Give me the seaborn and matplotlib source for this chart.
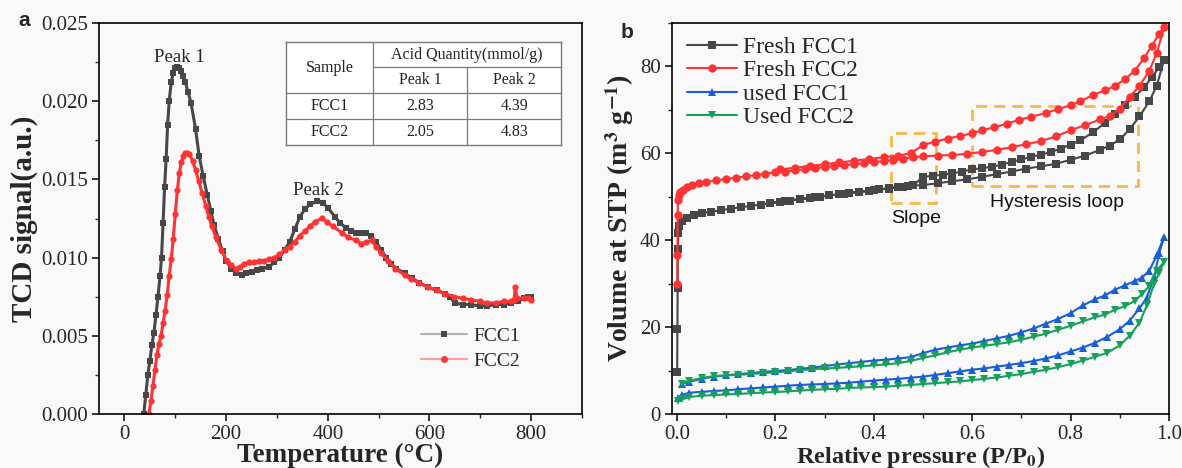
import matplotlib
matplotlib.use("Agg")
import matplotlib.pyplot as plt
import pandas as pd
import seaborn as sns
from matplotlib.lines import Line2D
from matplotlib.patches import Rectangle
from matplotlib.ticker import MultipleLocator

# --------------------------------------------
# DATA: panel a (NH3-TPD)
# --------------------------------------------
FCC1_T = [38, 42, 46, 50, 54, 58, 62, 66, 70, 73, 76, 79, 82, 85, 88, 92, 96, 100,
          104, 108, 112, 116, 120, 125, 131, 140, 147, 155, 163, 170, 176, 185, 193,
          200, 210, 220, 231, 240, 250, 260, 270, 284, 295, 305, 315, 325, 335, 345,
          355, 365, 378, 390, 400, 414, 425, 436, 446, 455, 465, 475, 485, 495, 505,
          515, 525, 535, 551, 565, 580, 597, 615, 630, 640, 650, 665, 681, 700, 714,
          730, 746, 760, 775, 785, 793, 800]
FCC1_SIGNAL = [0.0000, 0.0012, 0.0025, 0.0034, 0.0044, 0.0052, 0.0063, 0.0075, 0.0088,
               0.0100, 0.0122, 0.0145, 0.0163, 0.0185, 0.0200, 0.0212, 0.0218, 0.0221,
               0.0222, 0.0221, 0.0219, 0.0216, 0.0212, 0.0206, 0.0199, 0.0182, 0.0165,
               0.0152, 0.0140, 0.0130, 0.0121, 0.0112, 0.0104, 0.0098, 0.0093, 0.0090,
               0.0089, 0.0090, 0.0091, 0.0092, 0.0093, 0.0094, 0.0097, 0.0100, 0.0105,
               0.0110, 0.0118, 0.0126, 0.0131, 0.0134, 0.0136, 0.0135, 0.0132, 0.0126,
               0.0122, 0.0119, 0.0117, 0.0116, 0.0116, 0.0116, 0.0114, 0.0110, 0.0105,
               0.0100, 0.0096, 0.0093, 0.0090, 0.0087, 0.0084, 0.0081, 0.0079, 0.0077,
               0.0075, 0.0071, 0.0070, 0.0070, 0.0069, 0.0069, 0.0070, 0.0070, 0.0071,
               0.0072, 0.0074, 0.0075, 0.0075]

FCC2_T = [48, 52, 56, 60, 64, 68, 72, 76, 80, 84, 88, 92, 96, 100, 104, 108, 112, 116,
          120, 124, 128, 134, 140, 146, 153, 160, 166, 172, 180, 190, 201, 210, 219,
          228, 235, 245, 255, 265, 275, 284, 295, 305, 315, 325, 335, 345, 355, 365,
          375, 388, 398, 410, 427, 440, 455, 466, 476, 486, 495, 505, 518, 532, 551,
          564, 580, 597, 615, 630, 649, 665, 681, 700, 714, 730, 746, 760, 766, 769,
          772, 785, 793, 800]
FCC2_SIGNAL = [0.0000, 0.0008, 0.0018, 0.0028, 0.0038, 0.0045, 0.0050, 0.0058, 0.0066,
               0.0076, 0.0088, 0.0099, 0.0112, 0.0128, 0.0143, 0.0154, 0.0161, 0.0165,
               0.0167, 0.0167, 0.0166, 0.0162, 0.0156, 0.0149, 0.0141, 0.0133, 0.0126,
               0.0120, 0.0113, 0.0105, 0.0098, 0.0095, 0.0093, 0.0094, 0.0096, 0.0097,
               0.0097, 0.0098, 0.0098, 0.0099, 0.0100, 0.0102, 0.0105, 0.0107, 0.0110,
               0.0114, 0.0117, 0.0120, 0.0123, 0.0125, 0.0123, 0.0120, 0.0116, 0.0113,
               0.0111, 0.0109, 0.0110, 0.0111, 0.0107, 0.0103, 0.0098, 0.0093, 0.0089,
               0.0086, 0.0084, 0.0081, 0.0079, 0.0077, 0.0075, 0.0074, 0.0073, 0.0072,
               0.0071, 0.0071, 0.0072, 0.0072, 0.0073, 0.0081, 0.0074, 0.0074, 0.0074,
               0.0073]

TABLE_SAMPLES = ["FCC1", "FCC2"]
PEAK1_ACID = [2.83, 2.05]
PEAK2_ACID = [4.39, 4.83]

# --------------------------------------------
# DATA: panel b (N2 isotherms), adsorption then desorption branch
# --------------------------------------------
FRESH1_ADS_P = [0.0005, 0.001, 0.0015, 0.002, 0.003, 0.005, 0.01, 0.02, 0.035, 0.05,
                0.07, 0.09, 0.11, 0.13, 0.15, 0.17, 0.19, 0.21, 0.23, 0.25, 0.27, 0.29,
                0.31, 0.33, 0.35, 0.37, 0.39, 0.41, 0.43, 0.45, 0.47, 0.50, 0.53, 0.56,
                0.59, 0.62, 0.65, 0.68, 0.71, 0.74, 0.77, 0.80, 0.83, 0.86, 0.88, 0.90,
                0.92, 0.94, 0.96, 0.975, 0.99]
FRESH1_ADS_V = [9.7, 19.5, 29.0, 38.0, 41.7, 43.2, 44.5, 45.2, 45.8, 46.2, 46.6, 46.9,
                47.3, 47.6, 47.9, 48.2, 48.5, 48.8, 49.1, 49.4, 49.7, 50.0, 50.3, 50.6,
                50.9, 51.1, 51.4, 51.7, 52.0, 52.3, 52.5, 52.7, 53.1, 53.6, 54.0, 54.6,
                55.2, 55.8, 56.5, 57.0, 57.6, 58.5, 59.5, 60.8, 61.8, 63.2, 65.5, 68.5,
                72.0, 75.5, 81.5]
FRESH1_DES_P = [0.98, 0.965, 0.95, 0.93, 0.91, 0.89, 0.87, 0.845, 0.82, 0.80, 0.78,
                0.76, 0.74, 0.72, 0.70, 0.68, 0.66, 0.64, 0.62, 0.60, 0.58, 0.56, 0.54,
                0.52, 0.50, 0.48, 0.46, 0.43, 0.40, 0.37, 0.34, 0.31, 0.28, 0.25, 0.22,
                0.19]
FRESH1_DES_V = [79.8, 77.5, 75.2, 73.0, 71.2, 69.0, 67.0, 64.8, 63.0, 62.0, 61.1, 60.3,
                59.7, 59.2, 58.6, 58.0, 57.4, 56.9, 56.6, 56.3, 55.8, 55.4, 55.1, 54.8,
                54.6, 52.6, 52.3, 51.9, 51.5, 51.1, 50.7, 50.3, 49.9, 49.5, 49.1, 48.6]

FRESH2_ADS_P = [0.0005, 0.001, 0.0015, 0.002, 0.004, 0.007, 0.012, 0.02, 0.03, 0.045,
                0.06, 0.08, 0.10, 0.12, 0.14, 0.16, 0.18, 0.20, 0.22, 0.24, 0.26, 0.28,
                0.30, 0.32, 0.34, 0.36, 0.38, 0.40, 0.42, 0.44, 0.46, 0.48, 0.50, 0.53,
                0.56, 0.59, 0.62, 0.65, 0.68, 0.71, 0.74, 0.77, 0.80, 0.83, 0.86, 0.88,
                0.90, 0.92, 0.94, 0.96, 0.975, 0.99]
FRESH2_ADS_V = [30.0, 36.5, 45.8, 49.2, 50.4, 51.0, 51.6, 52.2, 52.7, 53.1, 53.4, 53.8,
                54.1, 54.4, 54.7, 55.0, 55.3, 55.6, 55.8, 56.1, 56.3, 56.6, 56.8, 57.1,
                57.3, 57.5, 57.7, 58.0, 58.2, 58.5, 58.8, 59.1, 59.3, 59.5, 59.6, 59.9,
                60.3, 60.8, 61.4, 62.1, 62.8, 63.9, 65.3, 66.5, 67.8, 68.6, 70.3, 73.0,
                75.5, 79.0, 83.0, 89.0]
FRESH2_DES_P = [0.98, 0.965, 0.95, 0.93, 0.91, 0.89, 0.87, 0.845, 0.82, 0.80, 0.775,
                0.75, 0.72, 0.695, 0.67, 0.645, 0.62, 0.60, 0.575, 0.55, 0.525, 0.50,
                0.475, 0.45, 0.42, 0.39, 0.36, 0.33, 0.30, 0.27, 0.24, 0.21]
FRESH2_DES_V = [87.5, 84.8, 82.0, 79.0, 77.0, 75.5, 74.5, 73.4, 72.0, 71.1, 70.2, 69.3,
                68.4, 67.7, 66.8, 66.0, 65.3, 64.6, 64.0, 63.4, 62.7, 61.9, 60.0, 59.5,
                59.1, 58.7, 58.3, 57.9, 57.5, 57.1, 56.7, 56.3]

USED_ADS_P = [0.002, 0.01, 0.025, 0.05, 0.075, 0.10, 0.125, 0.15, 0.175, 0.20, 0.225,
              0.25, 0.275, 0.30, 0.325, 0.35, 0.375, 0.40, 0.425, 0.45, 0.475, 0.50,
              0.525, 0.55, 0.575, 0.60, 0.625, 0.65, 0.675, 0.70, 0.725, 0.75, 0.775,
              0.80, 0.825, 0.85, 0.875, 0.90, 0.92, 0.94, 0.955, 0.97, 0.98, 0.99]
USED1_ADS_V = [3.7, 4.4, 4.9, 5.1, 5.3, 5.45, 5.7, 5.9, 6.1, 6.3, 6.5, 6.7, 6.8, 6.9,
               7.05, 7.2, 7.45, 7.7, 7.9, 8.1, 8.35, 8.6, 9.0, 9.4, 9.8, 10.2, 10.5,
               10.9, 11.3, 11.7, 12.2, 12.8, 13.5, 14.4, 15.3, 16.4, 17.8, 19.5, 21.5,
               24.3, 26.8, 31.5, 37.0, 40.8]
USED2_ADS_V = [2.9, 3.4, 3.9, 4.2, 4.35, 4.5, 4.6, 4.8, 4.95, 5.05, 5.2, 5.4, 5.55, 5.7,
               5.8, 6.0, 6.1, 6.2, 6.3, 6.5, 6.7, 6.9, 7.1, 7.3, 7.5, 7.8, 8.1, 8.4, 8.8,
               9.2, 9.7, 10.2, 10.8, 11.5, 12.3, 13.2, 14.1, 15.8, 18.0, 21.0, 25.0,
               30.0, 32.5, 35.0]
USED_DES_P = [0.975, 0.96, 0.945, 0.93, 0.91, 0.89, 0.87, 0.85, 0.825, 0.80, 0.775,
              0.75, 0.725, 0.70, 0.675, 0.65, 0.625, 0.60, 0.575, 0.55, 0.525, 0.50,
              0.475, 0.45, 0.425, 0.40, 0.375, 0.35, 0.325, 0.30, 0.275, 0.25, 0.225,
              0.20, 0.175, 0.15, 0.125, 0.10, 0.075, 0.05, 0.025, 0.01]
USED1_DES_V = [36.5, 33.0, 31.4, 30.6, 29.6, 28.6, 27.3, 26.4, 25.0, 23.2, 21.9, 20.8,
               19.7, 18.8, 18.0, 17.4, 16.8, 16.2, 15.8, 15.3, 14.8, 14.0, 13.1, 12.8,
               12.5, 12.3, 12.0, 11.7, 11.4, 11.0, 10.7, 10.4, 10.1, 9.9, 9.7, 9.4, 9.2,
               8.9, 8.6, 8.1, 7.4, 6.9]
USED2_DES_V = [33.0, 29.5, 27.6, 26.0, 24.8, 24.0, 22.9, 22.3, 21.3, 20.3, 19.4, 18.5,
               17.8, 17.1, 16.5, 16.1, 15.7, 15.3, 14.8, 14.2, 13.5, 12.9, 12.2, 11.7,
               11.4, 11.2, 11.0, 10.8, 10.6, 10.5, 10.3, 10.1, 9.8, 9.6, 9.4, 9.2, 9.0,
               8.9, 8.7, 8.3, 7.6, 7.0]

ISO_NAMES = ["Fresh FCC1", "Fresh FCC2", "used FCC1", "Used FCC2"]
ISO_COLORS = ["#474747", "#ff3333", "#1a5ed6", "#16a05a"]
ISO_MARKERS = ["s", "o", "^", "v"]

BG = "#f9f9f9"
ORANGE = "#f7b84a"
SERIF = ["Liberation Serif", "DejaVu Serif"]
SANS = ["Liberation Sans", "DejaVu Sans"]


def build_tpd_frame():
    a = pd.DataFrame({"T": FCC1_T, "signal": FCC1_SIGNAL, "sample": "FCC1"})
    b = pd.DataFrame({"T": FCC2_T, "signal": FCC2_SIGNAL, "sample": "FCC2"})
    return pd.concat([a, b], ignore_index=True)


def build_iso_frame():
    branches = [
        (FRESH1_ADS_P + FRESH1_DES_P, FRESH1_ADS_V + FRESH1_DES_V),
        (FRESH2_ADS_P + FRESH2_DES_P, FRESH2_ADS_V + FRESH2_DES_V),
        (USED_ADS_P + USED_DES_P, USED1_ADS_V + USED1_DES_V),
        (USED_ADS_P + USED_DES_P, USED2_ADS_V + USED2_DES_V),
    ]
    parts = []
    for name, (p, v) in zip(ISO_NAMES, branches):
        parts.append(pd.DataFrame({"p": p, "V": v, "sample": name}))
    return pd.concat(parts, ignore_index=True)


def style_axes(ax):
    ax.set_facecolor(BG)
    for s in ax.spines.values():
        s.set_linewidth(1.2)
        s.set_color("black")
    ax.tick_params(which="major", direction="out", length=5, width=1.1,
                   labelsize=15, color="black", pad=3, labelfontfamily=SERIF[0])
    ax.tick_params(which="minor", direction="out", length=3, width=1.0)
    ax.tick_params(top=False, right=False, which="both")


def draw_acid_table(ax):
    tab = ax.inset_axes([0.387, 0.688, 0.570, 0.263])
    tab.set_xlim(0, 1)
    tab.set_ylim(0, 1)
    tab.set_xticks([])
    tab.set_yticks([])
    tab.set_facecolor("white")
    edge = "#7a7a7a"
    for s in tab.spines.values():
        s.set_color(edge)
        s.set_linewidth(1.0)
    c1, c2 = 0.316, 0.658
    r1, r2, r3 = 0.757, 0.505, 0.252
    kw = dict(color=edge, lw=0.9)
    tab.plot([c1, c1], [0, 1], **kw)
    tab.plot([c2, c2], [0, r1], **kw)
    tab.plot([c1, 1], [r1, r1], **kw)
    tab.plot([0, 1], [r2, r2], **kw)
    tab.plot([0, 1], [r3, r3], **kw)
    tkw = dict(ha="center", va="center", fontsize=11.5, color="#222222")
    tab.text(c1 / 2, (1 + r2) / 2, "Sample", **tkw)
    tab.text((c1 + 1) / 2, (1 + r1) / 2, "Acid Quantity(mmol/g)", **tkw)
    tab.text((c1 + c2) / 2, (r1 + r2) / 2, "Peak 1", **tkw)
    tab.text((c2 + 1) / 2, (r1 + r2) / 2, "Peak 2", **tkw)
    for row_y, name, q1, q2 in zip([(r2 + r3) / 2, r3 / 2], TABLE_SAMPLES,
                                   PEAK1_ACID, PEAK2_ACID):
        tab.text(c1 / 2, row_y, name, **tkw)
        tab.text((c1 + c2) / 2, row_y, f"{q1:.2f}", **tkw)
        tab.text((c2 + 1) / 2, row_y, f"{q2:.2f}", **tkw)


def plot_tpd(ax):
    df = build_tpd_frame()
    sns.lineplot(data=df, x="T", y="signal", hue="sample", style="sample",
                 palette={"FCC1": ISO_COLORS[0], "FCC2": ISO_COLORS[1]},
                 markers={"FCC1": "s", "FCC2": "o"}, dashes=False,
                 markersize=4.5, markeredgewidth=0, linewidth=2.2,
                 estimator=None, sort=False, legend=False, ax=ax)
    ax.set_xlim(-50, 900)
    ax.set_ylim(0, 0.025)
    ax.xaxis.set_major_locator(MultipleLocator(200))
    ax.xaxis.set_minor_locator(MultipleLocator(100))
    ax.yaxis.set_major_locator(MultipleLocator(0.005))
    ax.yaxis.set_minor_locator(MultipleLocator(0.0025))
    ax.yaxis.set_major_formatter(plt.FormatStrFormatter("%.3f"))
    ax.set_xlabel("Temperature (°C)", fontsize=19.5, fontweight="bold", labelpad=-1)
    ax.set_ylabel("TCD signal(a.u.)", fontsize=21, fontweight="bold", labelpad=2)

    ax.text(108, 0.0228, "Peak 1", ha="center", va="center", fontsize=13.5)
    ax.text(382, 0.0143, "Peak 2", ha="center", va="center", fontsize=13.5)

    handles = [
        Line2D([], [], color="#b0b0b0", lw=1.5, marker="s", markersize=5,
               markerfacecolor=ISO_COLORS[0], markeredgewidth=0),
        Line2D([], [], color="#ff9c9c", lw=1.5, marker="o", markersize=5,
               markerfacecolor=ISO_COLORS[1], markeredgewidth=0),
    ]
    ax.legend(handles, TABLE_SAMPLES, loc="center left",
              bbox_to_anchor=(0.63, 0.167), frameon=False, fontsize=14,
              handlelength=2.4, handletextpad=0.3, labelspacing=0.35)
    draw_acid_table(ax)


def plot_isotherms(ax):
    df = build_iso_frame()
    sns.lineplot(data=df, x="p", y="V", hue="sample", style="sample",
                 palette=dict(zip(ISO_NAMES, ISO_COLORS)),
                 markers=dict(zip(ISO_NAMES, ISO_MARKERS)), dashes=False,
                 markersize=6, markeredgewidth=0, linewidth=1.5,
                 estimator=None, sort=False, legend=False, ax=ax)
    ax.set_xlim(-0.01, 1.0)
    ax.set_ylim(0, 90)
    ax.xaxis.set_major_locator(MultipleLocator(0.2))
    ax.xaxis.set_minor_locator(MultipleLocator(0.1))
    ax.yaxis.set_major_locator(MultipleLocator(20))
    ax.yaxis.set_minor_locator(MultipleLocator(10))
    ax.xaxis.set_major_formatter(plt.FormatStrFormatter("%.1f"))
    ax.set_xlabel(r"Relative pressure (P/P$_{\mathbf{0}}$)", fontsize=17.5,
                  fontweight="bold", labelpad=0)
    ax.set_ylabel(r"Volume at STP (m$^{\mathbf{3}}$ g$^{\mathbf{-1}}$)",
                  fontsize=20, fontweight="bold", labelpad=3)

    # annotation boxes
    ax.add_patch(Rectangle((0.436, 48.6), 0.091, 16.1, fill=False,
                           edgecolor=ORANGE, lw=2, ls=(0, (4, 2.5))))
    ax.add_patch(Rectangle((0.600, 52.5), 0.337, 18.4, fill=False,
                           edgecolor=ORANGE, lw=2, ls=(0, (4, 2.5))))
    ax.text(0.487, 45.1, "Slope", ha="center", va="center", fontsize=14,
            family=SANS, color="#111111")
    ax.text(0.772, 48.6, "Hysteresis loop", ha="center", va="center",
            fontsize=14, family=SANS, color="#111111")

    handles = [
        Line2D([], [], color=c, lw=1.5, marker=m, markersize=6, markeredgewidth=0)
        for c, m in zip(ISO_COLORS, ISO_MARKERS)
    ]
    ax.legend(handles, ISO_NAMES, loc="upper left", bbox_to_anchor=(-0.012, 1.02),
              frameon=False, fontsize=17, handlelength=2.1,
              handletextpad=0.25, labelspacing=0.08)


def main():
    sns.set_theme(style="ticks")
    plt.rcParams["font.family"] = SERIF
    plt.rcParams["mathtext.fontset"] = "stix"

    fig = plt.figure(figsize=(11.82, 4.68), dpi=100)
    fig.patch.set_facecolor(BG)
    ax1 = fig.add_axes([99 / 1182, 54 / 468, 483 / 1182, 391 / 468])
    ax2 = fig.add_axes([672 / 1182, 54 / 468, 497 / 1182, 391 / 468])
    for ax in (ax1, ax2):
        style_axes(ax)

    plot_tpd(ax1)
    plot_isotherms(ax2)

    fig.text(24 / 1182, 1 - 21 / 468, "a", ha="center", va="center",
             fontsize=15, fontweight="bold", family=SANS)
    fig.text(627 / 1182, 1 - 33 / 468, "b", ha="center", va="center",
             fontsize=15, fontweight="bold", family=SANS)

    fig.savefig("out.png", dpi=100, facecolor=fig.get_facecolor())
    plt.close(fig)


if __name__ == "__main__":
    main()
